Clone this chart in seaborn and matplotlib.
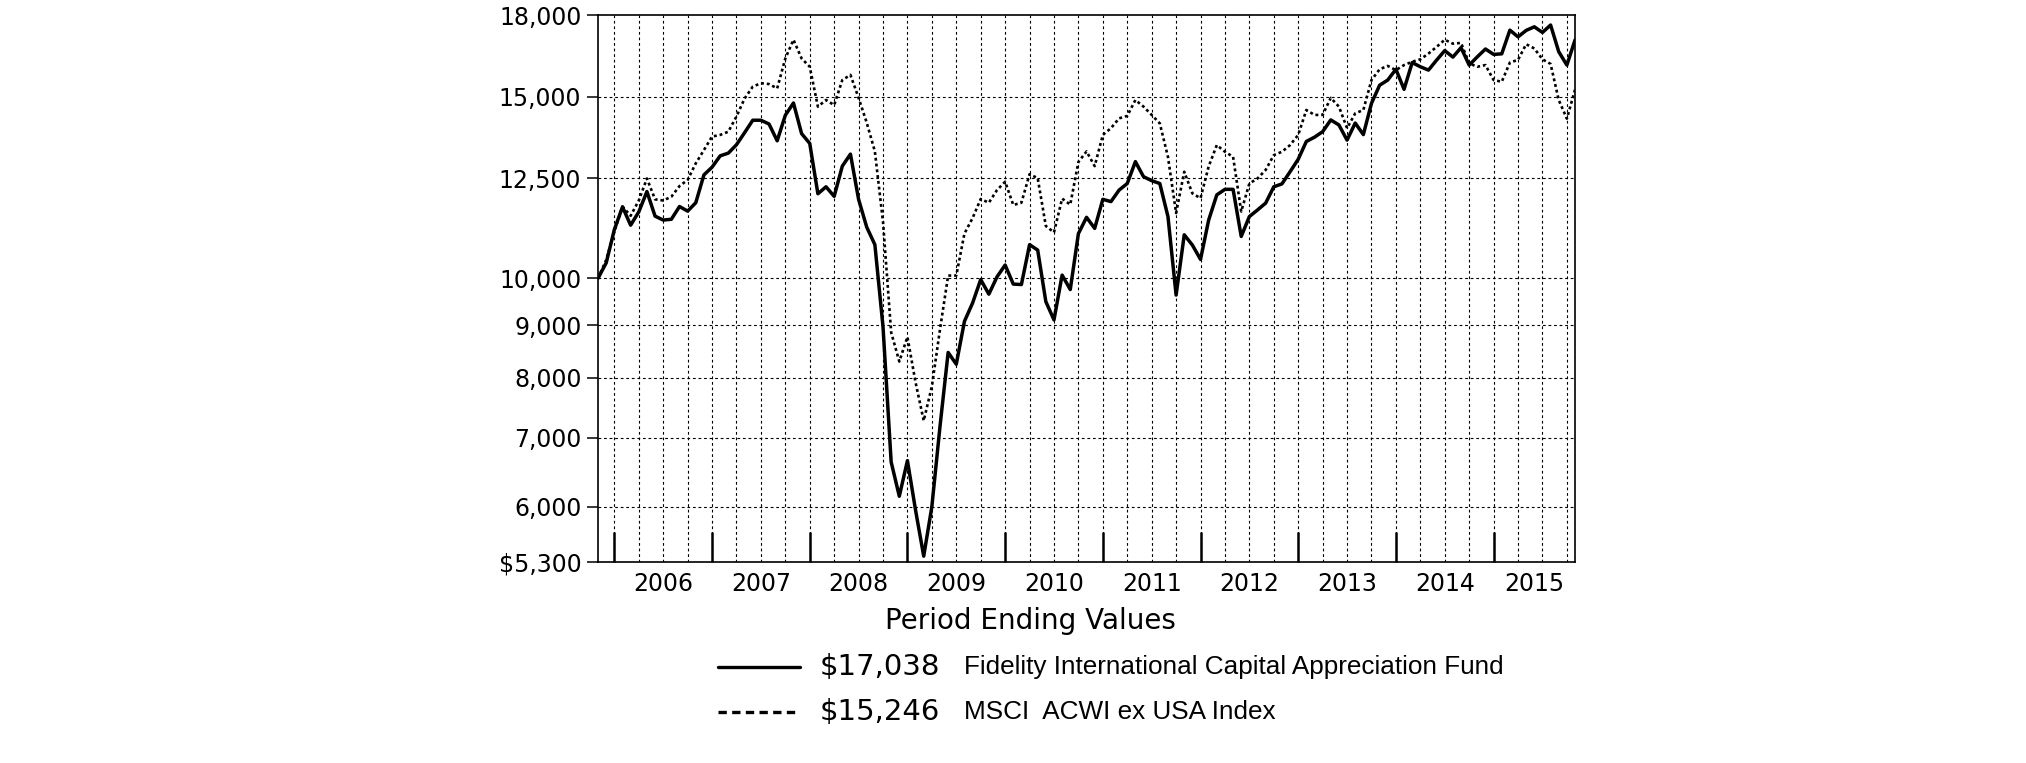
import numpy as np
import pandas as pd
import matplotlib
matplotlib.use("Agg")
import matplotlib.pyplot as plt
import seaborn as sns
from matplotlib.lines import Line2D
from matplotlib.ticker import NullLocator

# month 0 = Oct 2005, month 120 = Oct 2015 (hypothetical $10,000 investment)
months = np.arange(121)

fund = [10000, 10350, 11150, 11730, 11260, 11600, 12140, 11490, 11390, 11410,
        11740, 11620, 11840, 12600, 12820, 13150, 13230, 13480, 13850, 14240,
        14240, 14120, 13600, 14400, 14800, 13820, 13520, 12080, 12270, 12010,
        12850, 13200, 11930, 11210, 10780, 8970, 6630, 6140, 6650, 5950,
        5370, 6000, 7180, 8470, 8250, 9080, 9460, 9970, 9650, 10030,
        10300, 9870, 9860, 10780, 10650, 9490, 9110, 10070, 9750, 11050,
        11460, 11180, 11930, 11870, 12180, 12360, 12980, 12550, 12440, 12360,
        11480, 9630, 11020, 10770, 10430, 11390, 12050, 12200, 12200, 10980,
        11480, 11650, 11830, 12270, 12350, 12690, 13050, 13580, 13710, 13880,
        14250, 14090, 13620, 14150, 13790, 14790, 15400, 15580, 15960, 15260,
        16200, 16050, 15930, 16290, 16640, 16400, 16750, 16110, 16410, 16700,
        16500, 16520, 17420, 17160, 17410, 17550, 17330, 17620, 16600, 16110,
        17038]

msci = [10000, 10420, 11100, 11740, 11500, 11900, 12500, 11930, 11900, 12000,
        12290, 12460, 12930, 13320, 13730, 13780, 13880, 14360, 14950, 15350,
        15470, 15440, 15290, 16350, 17050, 16350, 16050, 14680, 14900, 14730,
        15580, 15760, 14970, 14160, 13280, 11340, 8860, 8300, 8770, 7920,
        7270, 7850, 8920, 10060, 10060, 11050, 11440, 11940, 11840, 12180,
        12410, 11780, 11840, 12620, 12510, 11240, 11080, 11950, 11790, 12970,
        13280, 12850, 13780, 13990, 14300, 14380, 14900, 14680, 14410, 14140,
        13120, 11570, 12690, 12090, 11960, 12840, 13470, 13270, 13120, 11610,
        12360, 12500, 12740, 13170, 13270, 13470, 13780, 14570, 14410, 14410,
        14970, 14680, 13990, 14460, 14570, 15580, 15960, 16080, 15930, 16110,
        16230, 16320, 16530, 16780, 17050, 16900, 16930, 16170, 16050, 16110,
        15580, 15520, 16200, 16300, 16880, 16720, 16320, 16150, 14900, 14290,
        15246]

ytick_values = [5300, 6000, 7000, 8000, 9000, 10000, 12500, 15000, 18000]
ytick_labels = ["$5,300", "6,000", "7,000", "8,000", "9,000", "10,000",
                "12,500", "15,000", "18,000"]
year_labels = ["2006", "2007", "2008", "2009", "2010", "2011", "2012",
               "2013", "2014", "2015"]
year_label_pos = [8, 20, 32, 44, 56, 68, 80, 92, 104, 115]
year_tick_pos = [2, 14, 26, 38, 50, 62, 74, 86, 98, 110]
grid_pos = list(range(2, 121, 3))

df = pd.DataFrame({"month": months, "fund": fund, "msci": msci})

sns.set_theme(style="white")
plt.rcParams["font.family"] = ["DejaVu Sans"]
plt.rcParams["text.color"] = "black"
plt.rcParams["axes.labelcolor"] = "black"

fig = plt.figure(figsize=(20.26, 7.63), dpi=100)
ax = fig.add_axes([0.2952, 0.2634, 0.4822, 0.7163])

ax.set_yscale("log")
ax.set_xlim(0, 120)
ax.set_ylim(5300, 18000)

# dotted grid
ax.vlines(grid_pos, 5300, 18000, colors="black", linestyles=(0, (2.5, 2.5)),
          linewidth=0.8, zorder=1)
ax.hlines(ytick_values[1:-1], 0, 120, colors="black", linestyles=(0, (2.5, 2.5)),
          linewidth=0.8, zorder=1)

sns.lineplot(data=df, x="month", y="msci", ax=ax, color="black",
             linewidth=1.9, linestyle=(0, (1.1, 1.1)), zorder=3)
sns.lineplot(data=df, x="month", y="fund", ax=ax, color="black",
             linewidth=2.5, zorder=4)

ax.set_yticks(ytick_values, ytick_labels)
ax.yaxis.set_minor_locator(NullLocator())
ax.tick_params(axis="y", which="major", direction="out", length=8, width=1.1,
               labelsize=17, pad=4, colors="black", left=True, right=False)

ax.set_xticks(year_tick_pos, [""] * len(year_tick_pos))
ax.set_xticks(year_label_pos, year_labels, minor=True)
ax.tick_params(axis="x", which="major", direction="in", length=21.6, width=1.8,
               colors="black", bottom=True, top=False)
ax.tick_params(axis="x", which="minor", length=0, labelsize=17, pad=7,
               colors="black")

ax.set_xlabel("")
ax.set_ylabel("")
for sp in ax.spines.values():
    sp.set_visible(True)
    sp.set_color("black")
    sp.set_linewidth(1.2)

# legend block below the chart
fig.text(1030 / 2026, 1 - 621 / 763, "Period Ending Values", fontsize=20,
         ha="center", va="center", color="black")

row_y = [1 - 667 / 763, 1 - 712 / 763]
fig.add_artist(Line2D([718 / 2026, 800 / 2026], [row_y[0]] * 2, color="black",
                      linewidth=2.4))
fig.add_artist(Line2D([718 / 2026, 800 / 2026], [row_y[1]] * 2, color="black",
                      linewidth=2.4, linestyle=(0, (2.5, 1.6))))
fig.text(820 / 2026, row_y[0], "$17,038", fontsize=21, ha="left", va="center",
         color="black")
fig.text(820 / 2026, row_y[1], "$15,246", fontsize=21, ha="left", va="center",
         color="black")
fig.text(964 / 2026, row_y[0], "Fidelity International Capital Appreciation Fund",
         fontsize=18.8, ha="left", va="center", color="black",
         family=["Liberation Sans", "DejaVu Sans"])
fig.text(964 / 2026, row_y[1], "MSCI  ACWI ex USA Index",
         fontsize=18.8, ha="left", va="center", color="black",
         family=["Liberation Sans", "DejaVu Sans"])

fig.savefig("out.png", dpi=100, facecolor="white")
